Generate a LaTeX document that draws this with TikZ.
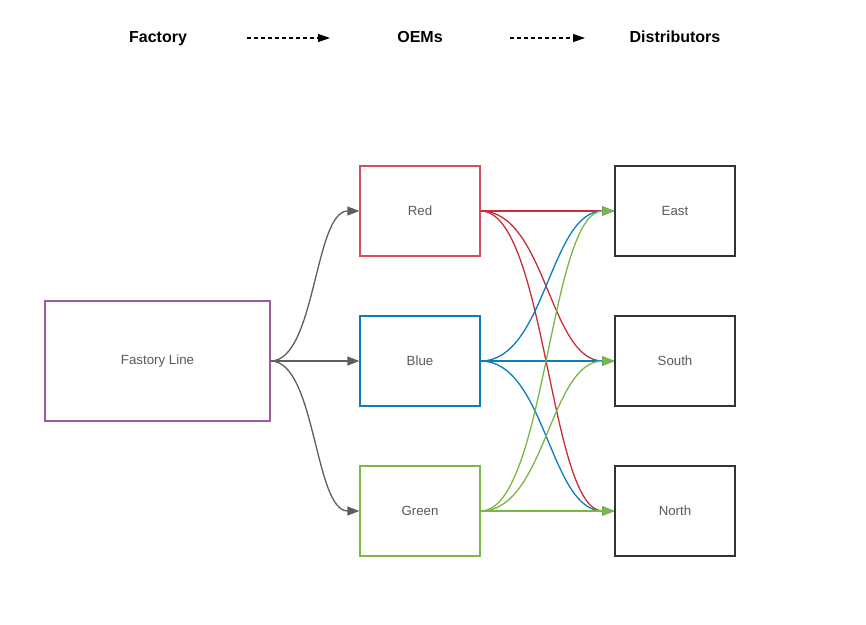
\documentclass[tikz,border=0pt]{standalone}
\usepackage{fontspec}
\setmainfont{Liberation Sans}
\usetikzlibrary{arrows.meta}
\definecolor{lred}{HTML}{C92D39}
\definecolor{lredbox}{HTML}{D6505B}
\definecolor{lblue}{HTML}{0C7CBA}
\definecolor{lgreen}{HTML}{7AB648}
\definecolor{lpurple}{HTML}{9C5A9F}
\definecolor{lgrey}{HTML}{5E5E5E}
\definecolor{ltext}{HTML}{5A5A5A}
\definecolor{lbox}{HTML}{333333}
\begin{document}
\begin{tikzpicture}[x=1pt,y=-1pt,
  box/.style={draw, line width=1.3pt, minimum width=120pt, minimum height=90pt, inner sep=0pt,
    text=ltext, font=\fontsize{13.3}{16}\selectfont},
  title/.style={font=\fontsize{16}{19}\selectfont\bfseries, text=black, anchor=base},
  link/.style={line width=1.3pt, -{Triangle[length=12pt,width=9pt]}},
  hdr/.style={line width=1.1pt, dash pattern=on 4pt off 3pt, -{Triangle[length=12pt,width=8pt]}}]
\useasboundingbox (0,0) rectangle (866,624);
\node[title] (tf) at (158,42) {Factory};
\node[title] (to) at (420,42) {OEMs};
\node[title] (td) at (675,42) {Distributors};
\coordinate (h1a) at (247,38); \coordinate (h1b) at (330,38);
\coordinate (h2a) at (510,38); \coordinate (h2b) at (585,38);
\draw[hdr] (h1a) -- (h1b);
\draw[hdr] (h2a) -- (h2b);
\node[box, draw=lpurple, minimum width=225pt, minimum height=120pt] (fac) at (157.5,361) {Fastory Line};
\node[box, draw=lredbox] (red) at (420,211) {Red};
\node[box, draw=lblue] (blue) at (420,361) {Blue};
\node[box, draw=lgreen] (green) at (420,511) {Green};
\node[box, draw=lbox] (east) at (675,211) {East};
\node[box, draw=lbox] (south) at (675,361) {South};
\node[box, draw=lbox] (north) at (675,511) {North};
% factory to OEMs
\draw[link, lgrey] (fac.east) .. controls +(45,0) and +(-45,0) .. (red.west);
\draw[link, lgrey] (fac.east) -- (blue.west);
\draw[link, lgrey] (fac.east) .. controls +(45,0) and +(-45,0) .. (green.west);
% red
\draw[link, lred] (red.east) -- (east.west);
\draw[link, lred] (red.east) .. controls +(65,0) and +(-65,0) .. (south.west);
\draw[link, lred] (red.east) .. controls +(65,0) and +(-65,0) .. (north.west);
% blue
\draw[link, lblue] (blue.east) .. controls +(65,0) and +(-65,0) .. (east.west);
\draw[link, lblue] (blue.east) -- (south.west);
\draw[link, lblue] (blue.east) .. controls +(65,0) and +(-65,0) .. (north.west);
% green
\draw[link, lgreen] (green.east) .. controls +(65,0) and +(-65,0) .. (east.west);
\draw[link, lgreen] (green.east) .. controls +(65,0) and +(-65,0) .. (south.west);
\draw[link, lgreen] (green.east) -- (north.west);
\end{tikzpicture}
\end{document}
